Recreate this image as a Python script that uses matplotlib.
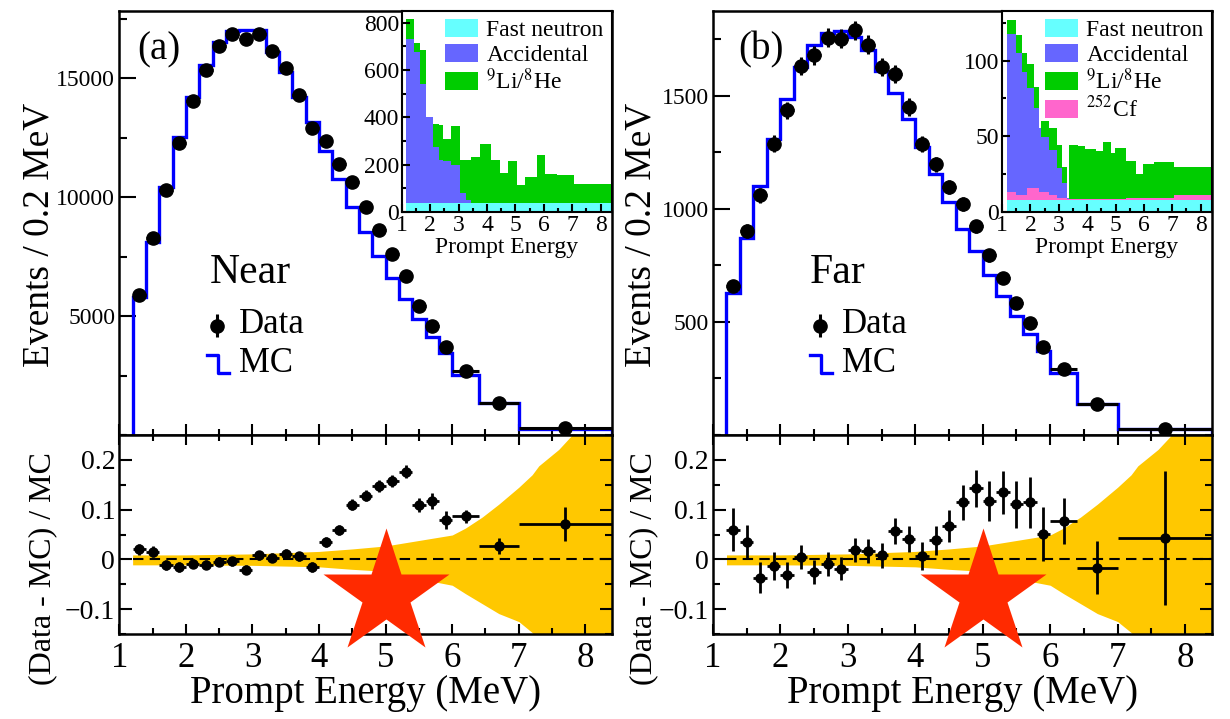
import numpy as np
import matplotlib.pyplot as plt
from matplotlib.patches import Patch
from matplotlib.ticker import MultipleLocator, NullFormatter, FixedLocator

plt.rcParams['font.family'] = ['Liberation Serif', 'DejaVu Serif']
plt.rcParams['mathtext.fontset'] = 'stix'

# prompt energy binning (MeV): 0.2 MeV up to 6 MeV, wider bins above
edges = np.array([1.2, 1.4, 1.6, 1.8, 2.0, 2.2, 2.4, 2.6, 2.8, 3.0, 3.2, 3.4, 3.6, 3.8,
                  4.0, 4.2, 4.4, 4.6, 4.8, 5.0, 5.2, 5.4, 5.6, 5.8, 6.0, 6.4, 7.0, 8.4])
centers = 0.5 * (edges[:-1] + edges[1:])
half_w = 0.5 * np.diff(edges)

# near site, events / 0.2 MeV
near_data = [5895, 8263, 10292, 12253, 14043, 15345, 16353, 16844, 16634, 16844, 16117, 15416,
             14293, 12896, 12337, 11384, 10628, 9600, 8598, 7625, 6693, 5433, 4593, 3685,
             2703, 1346, 280]
near_err = [77, 91, 101, 111, 119, 124, 128, 130, 129, 130, 127, 124, 120, 114, 111, 107,
            103, 98, 93, 87, 82, 74, 68, 61, 37, 19, 6]
near_mc = [5785, 8122, 10431, 12505, 14185, 15542, 16495, 16957, 17027, 17027, 16075, 15234,
           14185, 13135, 11945, 10754, 9565, 8541, 7507, 6590, 5700, 4874, 4105, 3447,
           2536, 1333, 240]
near_ratio = [0.020, 0.015, -0.012, -0.016, -0.009, -0.011, -0.005, -0.004, -0.021, 0.008,
              0.003, 0.011, 0.006, -0.015, 0.035, 0.060, 0.110, 0.128, 0.147, 0.158, 0.176,
              0.110, 0.118, 0.080, 0.087, 0.026, 0.071]
near_ratio_err = [0.011, 0.011, 0.010, 0.010, 0.009, 0.009, 0.009, 0.009, 0.009, 0.009, 0.009,
                  0.009, 0.009, 0.010, 0.010, 0.010, 0.011, 0.011, 0.012, 0.012, 0.013, 0.014,
                  0.016, 0.018, 0.013, 0.016, 0.035]

# far site, events / 0.2 MeV
far_data = [659, 903, 1061, 1289, 1437, 1633, 1680, 1757, 1754, 1791, 1727, 1626, 1595, 1451,
            1286, 1197, 1097, 1021, 923, 795, 696, 586, 496, 389, 291, 139, 28]
far_err = [26, 30, 33, 36, 38, 40, 41, 42, 42, 42, 42, 40, 40, 38, 36, 35, 33, 32, 30, 28,
           26, 24, 22, 20, 12, 7, 3]
far_mc = [626, 873, 1102, 1311, 1485, 1628, 1724, 1779, 1788, 1761, 1705, 1611, 1511, 1400,
          1274, 1154, 1029, 913, 812, 707, 616, 527, 446, 372, 274, 139, 27]
far_ratio = [0.060, 0.035, -0.037, -0.014, -0.032, 0.005, -0.025, -0.010, -0.019, 0.019,
             0.016, 0.008, 0.057, 0.041, 0.007, 0.038, 0.067, 0.115, 0.143, 0.118, 0.135,
             0.111, 0.115, 0.051, 0.077, -0.017, 0.043]
far_ratio_err = [0.044, 0.035, 0.031, 0.028, 0.026, 0.024, 0.024, 0.024, 0.023, 0.024, 0.024,
                 0.025, 0.027, 0.027, 0.028, 0.030, 0.032, 0.035, 0.037, 0.040, 0.043, 0.047,
                 0.051, 0.055, 0.047, 0.053, 0.135]

# systematic uncertainty band on the MC prediction
band_x = [1.2, 2.0, 3.0, 4.0, 4.5, 5.0, 5.5, 6.0, 6.2, 6.45, 6.7, 7.0, 7.2, 7.3, 7.6, 7.8, 8.1, 8.4]
band_hi = [0.009, 0.009, 0.011, 0.016, 0.021, 0.027, 0.038, 0.049, 0.063, 0.085, 0.111, 0.145,
           0.170, 0.188, 0.221, 0.250, 0.300, 0.350]
band_lo = [-0.011, -0.011, -0.012, -0.015, -0.020, -0.024, -0.039, -0.052, -0.069, -0.089,
           -0.109, -0.125, -0.147, -0.160, -0.200, -0.230, -0.270, -0.300]

# background insets: stacked components
bkg_a_edges = [1.15, 1.45, 1.65, 1.85, 2.1, 2.3, 2.45, 2.75, 3.05, 3.25, 3.45, 3.75, 4.15,
               4.45, 4.75, 5.05, 5.35, 5.75, 6.05, 6.45, 7.05, 8.4]
bkg_a_fastn = [39] * 21
bkg_a_acc = [691, 635, 501, 361, 236, 180, 177, 159, 42, 11, 0, 0, 0, 0, 0, 0, 0, 0, 0, 0, 0]
bkg_a_lihe = [84, 38, 144, 0, 95, 150, 94, 165, 137, 168, 194, 250, 179, 126, 175, 74, 109,
              201, 121, 117, 79]

bkg_b_edges = [1.18, 1.48, 1.69, 1.88, 2.12, 2.29, 2.38, 2.64, 2.93, 3.11, 3.28, 3.36, 3.69,
               3.92, 4.33, 4.56, 4.85, 4.97, 5.38, 5.73, 5.96, 6.37, 7.07, 8.41]
bkg_b_fastn = [7.9] * 23
bkg_b_cf = [5.5, 3.3, 3.3, 7.7, 7.7, 5.5, 5.5, 3.3, 1.1, 1.1, 0.4, 0.4, 0.4, 0.4, 0.4, 0.4,
            0.4, 0.4, 1.1, 1.1, 1.1, 1.1, 3.1]
bkg_b_acc = [104, 94, 81, 66, 53, 42, 36, 30, 20, 10, 1, 0, 0, 0, 0, 0, 0, 0, 0, 0, 0, 0, 0]
bkg_b_lihe = [9.6, 12, 13, 16, 14, 0, 11, 14, 15, 11, 0, 36, 35, 33, 32, 38, 31, 34, 25, 16,
              23, 24, 19]

BKG_COLORS = {'fastn': '#66FFFF', 'acc': '#6666FF', 'lihe': '#00CC00', 'cf': '#FF66CC'}
YELLOW = '#FFC800'
STAR_RED = '#FF2A00'

fig = plt.figure(figsize=(12.3, 7.19), dpi=100)


def px_axes(x0, y0, x1, y1):
    # axes box given by pixel corners (top-left origin)
    return fig.add_axes([x0 / 1230, 1 - y1 / 719, (x1 - x0) / 1230, (y1 - y0) / 719])


def style_ticks(ax, **kw):
    ax.tick_params(which='both', direction='in', width=1.5, **kw)
    for s in ax.spines.values():
        s.set_linewidth(1.8)


def draw_site(x0, x1, data, err, mc, ratio, ratio_err, ymax, ymajor, site, tag, lab_dx):
    top = px_axes(x0, 10.7, x1, 435)
    bot = px_axes(x0, 435, x1, 634)

    # spectrum
    top.stairs(mc, edges, baseline=0, color='#0000FF', lw=2.4, zorder=2)
    top.errorbar(centers, data, yerr=err, xerr=half_w, fmt='o', color='k', ms=9.5,
                 elinewidth=2.2, capsize=0, zorder=3)
    top.set_xlim(1, 8.4)
    top.set_ylim(0, ymax)
    top.xaxis.set_major_locator(MultipleLocator(1))
    top.xaxis.set_minor_locator(MultipleLocator(0.5))
    top.xaxis.set_major_formatter(NullFormatter())
    top.yaxis.set_major_locator(FixedLocator([ymajor, 2 * ymajor, 3 * ymajor]))
    top.yaxis.set_minor_locator(MultipleLocator(ymajor / 2))
    style_ticks(top, labelsize=17, pad=3)
    top.tick_params(axis='y', which='major', length=12)
    top.tick_params(axis='y', which='minor', length=6)
    top.tick_params(axis='x', which='major', length=8)
    top.tick_params(axis='x', which='minor', length=4)
    top.set_ylabel('Events / 0.2 MeV', fontsize=27)
    top.yaxis.set_label_coords(lab_dx, 0.472)

    top.text(tag_x[tag], 0.884, tag, transform=top.transAxes, fontsize=28, va='baseline')
    top.text(lab_x[site], 0.3585, site, transform=top.transAxes, fontsize=30, va='baseline')
    mx = leg_x[site]
    top.errorbar([mx + 0.021], [0.258], yerr=[0.028], fmt='o', color='k', ms=9.5,
                 elinewidth=2.2, transform=top.transAxes, clip_on=False)
    top.plot([mx, mx + 0.023, mx + 0.023, mx + 0.045], [0.189, 0.189, 0.147, 0.147],
             color='#0000FF', lw=2.4, transform=top.transAxes)
    top.text(mx + 0.065, 0.2406, 'Data', transform=top.transAxes, fontsize=25, va='baseline')
    top.text(mx + 0.065, 0.1486, 'MC', transform=top.transAxes, fontsize=25, va='baseline')

    # ratio panel
    bot.fill_between(band_x, band_lo, band_hi, color=YELLOW, lw=0, zorder=1)
    bot.hlines(0, 1.2, 8.4, colors='k', linestyles=(0, (5, 3)), lw=1.5, zorder=1.5)
    bot.errorbar(centers, ratio, yerr=ratio_err, xerr=half_w, fmt='o', color='k', ms=6.5,
                 elinewidth=2.0, capsize=0, zorder=3)
    bot.plot([5.0], [-0.0706], marker='*', ms=95, color=STAR_RED, mec='none',
             clip_on=False, zorder=4)
    bot.set_xlim(1, 8.4)
    bot.set_ylim(-0.15, 0.25)
    bot.xaxis.set_major_locator(MultipleLocator(1))
    bot.xaxis.set_minor_locator(MultipleLocator(0.5))
    bot.yaxis.set_major_locator(MultipleLocator(0.1))
    bot.yaxis.set_minor_locator(MultipleLocator(0.05))
    bot.yaxis.set_major_formatter(plt.FuncFormatter(
        lambda v, p: '0' if abs(v) < 1e-9 else f'{v:.1f}'.replace('-', '\u2212')))
    style_ticks(bot, top=True, right=True)
    bot.tick_params(axis='y', which='major', length=9, labelsize=20, pad=3)
    bot.tick_params(axis='y', which='minor', length=5)
    bot.tick_params(axis='x', which='major', length=7, labelsize=25, pad=6)
    bot.tick_params(axis='x', which='minor', length=4)
    bot.set_xlabel('Prompt Energy (MeV)', fontsize=28, labelpad=0)
    bot.set_ylabel('(Data - MC) / MC', fontsize=23)
    bot.yaxis.set_label_coords(lab_dx, 0.33)
    return top, bot


def draw_inset(x0, x1, edges_b, comps, ymax, ymajor):
    ax = px_axes(x0, 10.7, x1, 212)
    base = np.zeros(len(edges_b) - 1)
    for key, vals in comps:
        vals = np.asarray(vals, dtype=float)
        ax.stairs(base + vals, edges_b, baseline=base, fill=True, color=BKG_COLORS[key], lw=0)
        base = base + vals
    ax.set_xlim(1, 8.4)
    ax.set_ylim(0, ymax)
    ax.xaxis.set_major_locator(MultipleLocator(1))
    ax.xaxis.set_minor_locator(MultipleLocator(0.5))
    ax.yaxis.set_major_locator(MultipleLocator(ymajor))
    ax.yaxis.set_minor_locator(MultipleLocator(ymajor / 2))
    style_ticks(ax, labelsize=17, pad=2)
    ax.tick_params(which='major', length=6)
    ax.tick_params(which='minor', length=3)
    for s in ax.spines.values():
        s.set_linewidth(1.5)
    ax.set_xlabel('Prompt Energy', fontsize=17, labelpad=1)
    order = ['fastn', 'acc', 'lihe', 'cf']
    names = {'fastn': 'Fast neutron', 'acc': 'Accidental',
             'lihe': r'$^{9}$Li/$^{8}$He', 'cf': r'$^{252}$Cf'}
    present = [k for k in order if any(c[0] == k for c in comps)]
    handles = [Patch(facecolor=BKG_COLORS[k], edgecolor='none', label=names[k]) for k in present]
    ax.legend(handles=handles, loc='upper right', frameon=False, fontsize=17,
              handlelength=1.4, handleheight=0.8, handletextpad=0.35, labelspacing=0.1,
              borderaxespad=0.15, borderpad=0.2)
    return ax


tag_x = {'(a)': 0.036, '(b)': 0.050}
lab_x = {'Near': 0.183, 'Far': 0.194}
leg_x = {'Near': 0.178, 'Far': 0.194}

draw_site(119.3, 612, near_data, near_err, near_mc, near_ratio, near_ratio_err,
          17830, 5000, 'Near', '(a)', -0.127)
draw_site(713, 1212, far_data, far_err, far_mc, far_ratio, far_ratio_err,
          1877, 500, 'Far', '(b)', -0.11)

draw_inset(401.7, 612, bkg_a_edges,
           [('fastn', bkg_a_fastn), ('acc', bkg_a_acc), ('lihe', bkg_a_lihe)],
           850, 200)
draw_inset(1002, 1212, bkg_b_edges,
           [('fastn', bkg_b_fastn), ('cf', bkg_b_cf), ('acc', bkg_b_acc),
            ('lihe', bkg_b_lihe)],
           133, 50)

fig.savefig('out.png', dpi=100)
